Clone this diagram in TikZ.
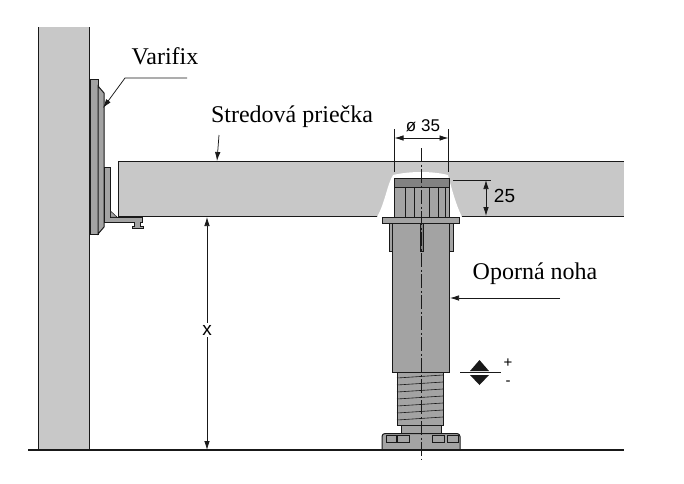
\documentclass[tikz,border=0pt]{standalone}
\usepackage{fontspec}
\setmainfont{Liberation Serif}
\setsansfont{Liberation Sans}
\usepackage{xcolor}
\usetikzlibrary{arrows.meta}
\definecolor{partGray}{RGB}{163,163,163}
\definecolor{wallGray}{RGB}{200,200,200}
\definecolor{capGray}{RGB}{130,130,130}
\definecolor{inkBlack}{RGB}{25,25,25}
\begin{document}
\begin{tikzpicture}[x=1pt,y=-1pt]
\tikzstyle{part} = [draw=inkBlack, fill=partGray, line width=1pt]
\tikzstyle{leader} = [draw=inkBlack, line width=0.75pt]
\tikzstyle{dimarrow} = [leader, {Latex[length=9pt,width=5.5pt]}-{Latex[length=9pt,width=5.5pt]}]
\tikzstyle{callout} = [leader, -{Latex[length=9pt,width=5.5pt]}]
\tikzstyle{serifbox} = [font=\fontsize{24}{26}\selectfont, inner sep=0pt]
\tikzstyle{sansbox} = [font=\sffamily\fontsize{17}{20}\selectfont, inner sep=0pt]
\useasboundingbox[fill=white] (0,0) rectangle (684,483);
% wall and beam
\fill[wallGray] (38,27) rectangle (89.5,450);
\draw[inkBlack, line width=1pt] (38,27) -- (38,450) (89.5,27) -- (89.5,450);
\fill[wallGray] (118,161) rectangle (624,216);
\draw[inkBlack, line width=1pt] (624,161) -- (118,161) -- (118,216) -- (624,216);
\fill[white] (377,217) .. controls (385,203) and (387,185) .. (393,175) .. controls (410,171) and (432,171) .. (448,175) .. controls (452,190) and (456,205) .. (462,217) -- cycle;
% varifix
\draw[part] (90,79) rectangle (98,234);
\draw[part] (98,86) -- (104,93) -- (104,227) -- (98,234) -- cycle;
\draw[part] (104,167) -- (110.5,167) -- (110.5,217) -- (142,217) -- (142,222) -- (104,222) -- cycle;
\draw[part, line width=0.5pt] (110.5,211) -- (117,217) -- (110.5,217) -- cycle;
\draw[part, line width=0.6pt] (134,222) -- (134,226) -- (132,226) -- (132,228) -- (143,228) -- (143,226) -- (140,226) -- (140,222);
% leg
\draw[part] (389,223) rectangle (392,251);
\draw[part] (449,223) rectangle (453,251);
\draw[part] (392,223) rectangle (449,372);
\draw[inkBlack, fill=capGray, line width=0.9pt] (420,223) rectangle (423,251);
\draw[part] (394.5,187) rectangle (449,217);
\foreach \ribx in {405,414,429,438,445} {
  \draw[inkBlack, line width=0.7pt] (\ribx,187) -- (\ribx,217);
}
\draw[inkBlack, fill=capGray, line width=0.9pt] (394.5,178.5) rectangle (449,187);
\draw[part] (382,217) rectangle (459,223);
\draw[part] (397,372) rectangle (443,425);
\foreach \thready in {375,382,389,396,403,410,417} {
  \draw[inkBlack, line width=0.6pt] (397,\thready+3) -- (443,\thready);
}
\draw[part] (401,425) rectangle (441,434);
\draw[part, rounded corners=3pt] (382,449.5) -- (382,433.5) -- (460,433.5) -- (460,449.5);
\foreach \winx/\winw in {386/10,397.5/12,432.5/12,447/11} {
  \draw[inkBlack, line width=0.8pt] (\winx,435.5) rectangle ++(\winw,7);
}
% ground and centre line
\coordinate (groundL) at (28,450);
\coordinate (groundR) at (624,450);
\draw[inkBlack, line width=1.5pt] (groundL) -- (groundR);
\coordinate (axisT) at (421.5,148);
\coordinate (axisB) at (421.5,459);
\draw[inkBlack, line width=0.7pt, dash pattern=on 14pt off 2.5pt on 2pt off 2.5pt] (axisT) -- (axisB);
% dimensions
\coordinate (dAl) at (394.5,138);
\coordinate (dAr) at (448.5,138);
\draw[leader] (394.5,129) -- (394.5,172) (448.5,129) -- (448.5,172);
\draw[dimarrow] (dAl) -- (dAr);
\node[sansbox] (dia) at (423,126) {ø 35};
\coordinate (dBt) at (486,180);
\coordinate (dBb) at (486,216);
\draw[leader] (453,180) -- (491,180);
\draw[dimarrow] (dBt) -- (dBb);
\node[sansbox, font=\sffamily\fontsize{19}{21}\selectfont] (depth) at (504.5,196) {25};
\coordinate (dCt) at (207,217);
\coordinate (dCb) at (207,450);
\draw[dimarrow] (dCt) -- (dCb);
\node[sansbox, font=\sffamily\fontsize{19}{21}\selectfont, fill=white, inner sep=1.5pt] (height) at (207,330) {x};
% labels
\node[serifbox] (varifix) at (165,56) {Varifix};
\node[serifbox] (beam) at (292,117) {Stredová priečka};
\node[serifbox] (leg) at (535,274) {Oporná noha};
\coordinate (varifixA) at (187,78);
\coordinate (varifixB) at (125,78);
\coordinate (varifixC) at (103,108);
\draw[callout] (varifixA) -- (varifixB) -- (varifixC);
\coordinate (beamA) at (219,135);
\coordinate (beamC) at (217,161);
\draw[callout] (beamA) -- (beamC);
\coordinate (legA) at (560,298);
\coordinate (legB) at (450,298);
\draw[callout] (legA) -- (legB);
% adjustment
\coordinate (adjL) at (460,372);
\coordinate (adjR) at (501,372);
\draw[leader] (adjL) -- (adjR);
\fill[inkBlack] (470,371) -- (479.5,360) -- (489,371) -- cycle;
\fill[inkBlack] (470,375) -- (479.5,385) -- (489,375) -- cycle;
\node[sansbox, font=\sffamily\fontsize{15}{17}\selectfont] (plus) at (508,363) {+};
\node[sansbox, font=\sffamily\fontsize{15}{17}\selectfont] (minus) at (508,383) {-};
\end{tikzpicture}
\end{document}
